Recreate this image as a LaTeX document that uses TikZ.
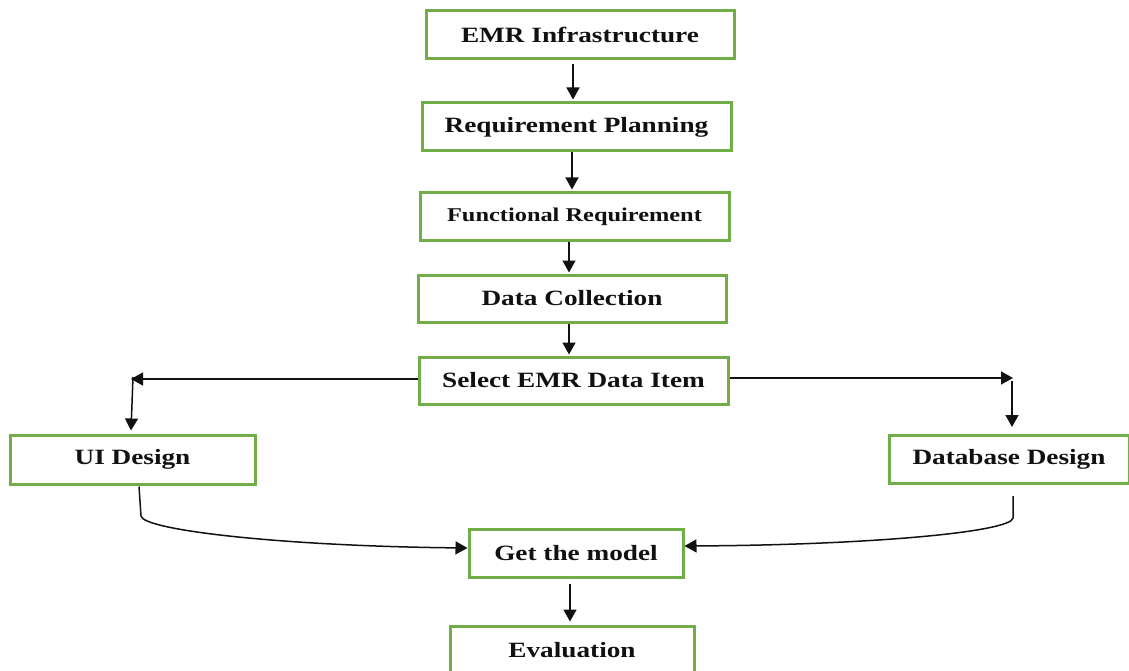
\documentclass[tikz,border=0pt]{standalone}
\usepackage{fontspec}
\usepackage{tikz}
\usetikzlibrary{arrows.meta,calc,positioning}
\newfontfamily\boxfont{Liberation Serif}[FakeStretch=1.25]
\definecolor{BoxGreen}{HTML}{70AD47}
\definecolor{Ink}{HTML}{111111}

\begin{document}
\begin{tikzpicture}[x=1pt,y=-1pt,
    box/.style={rectangle,draw=BoxGreen,fill=white,line width=3pt,inner sep=0pt,
      minimum height=48pt,text=Ink,font=\boxfont\bfseries\fontsize{21.8}{24}\selectfont},
    flow/.style={Ink,line width=1.5pt,-{Triangle[length=12pt,width=13pt]}}]
    \useasboundingbox (0,0) rectangle (1129,671);
    \node[box,minimum width=308pt] (infra) at (580,35) {EMR Infrastructure};
    \node[box,minimum width=309pt] (plan) at (576.5,127) {Requirement Planning};
    \node[box,minimum width=309pt,minimum height=47pt,font=\boxfont\bfseries\fontsize{19.5}{22}\selectfont] (func) at (574.5,216.5) {Functional Requirement};
    \node[box,minimum width=308pt,minimum height=47pt] (collect) at (572,298.5) {Data Collection};
    \node[box,minimum width=309pt,minimum height=47pt] (select) at (573.5,380.5) {Select EMR Data Item};
    \node[box,minimum width=245pt,minimum height=49pt] (ui) at (132.5,459.5) {UI Design};
    \node[box,minimum width=240pt] (db) at (1009,459.5) {Database Design};
    \node[box,minimum width=214pt] (model) at (576,553) {Get the model};
    \node[box,minimum width=244pt] (eval) at (572,650) {Evaluation};
    \coordinate (lturn) at (131,379);
    \coordinate (rturn) at (1013,378);
    \draw[flow] ([xshift=-7pt,yshift=-4pt]infra.south) -- ([xshift=-3.5pt,yshift=2pt]plan.north);
    \draw[flow] ([xshift=-4.5pt]plan.south) -- ([xshift=-2.5pt,yshift=2pt]func.north);
    \draw[flow] ([xshift=-5.5pt]func.south) -- ([xshift=-3pt,yshift=1pt]collect.north);
    \draw[flow] ([xshift=-3pt]collect.south) -- ([xshift=-4.5pt,yshift=1pt]select.north);
    \draw[flow] ([yshift=1.5pt]select.west) -- (lturn);
    \draw[flow] ([xshift=2pt,yshift=2pt]lturn) -- ([xshift=-1.5pt,yshift=3pt]ui.north);
    \draw[flow] ([yshift=2.5pt]select.east) -- (rturn);
    \draw[flow] ([xshift=-1pt,yshift=-3pt]rturn) -- ([xshift=3pt,yshift=7pt]db.north);
    \draw[flow] ([xshift=6.5pt,yshift=-1pt]ui.south) -- (141,516) .. controls (143,530) and (280,546) .. ([yshift=5pt]model.west);
    \draw[flow] ([xshift=4pt,yshift=-11pt]db.south) -- (1013,518) .. controls (1011,532) and (870,545) .. ([yshift=7pt]model.east);
    \draw[flow] ([xshift=-6pt,yshift=-5pt]model.south) -- ([xshift=-2pt,yshift=3pt]eval.north);
  \end{tikzpicture}
\end{document}
